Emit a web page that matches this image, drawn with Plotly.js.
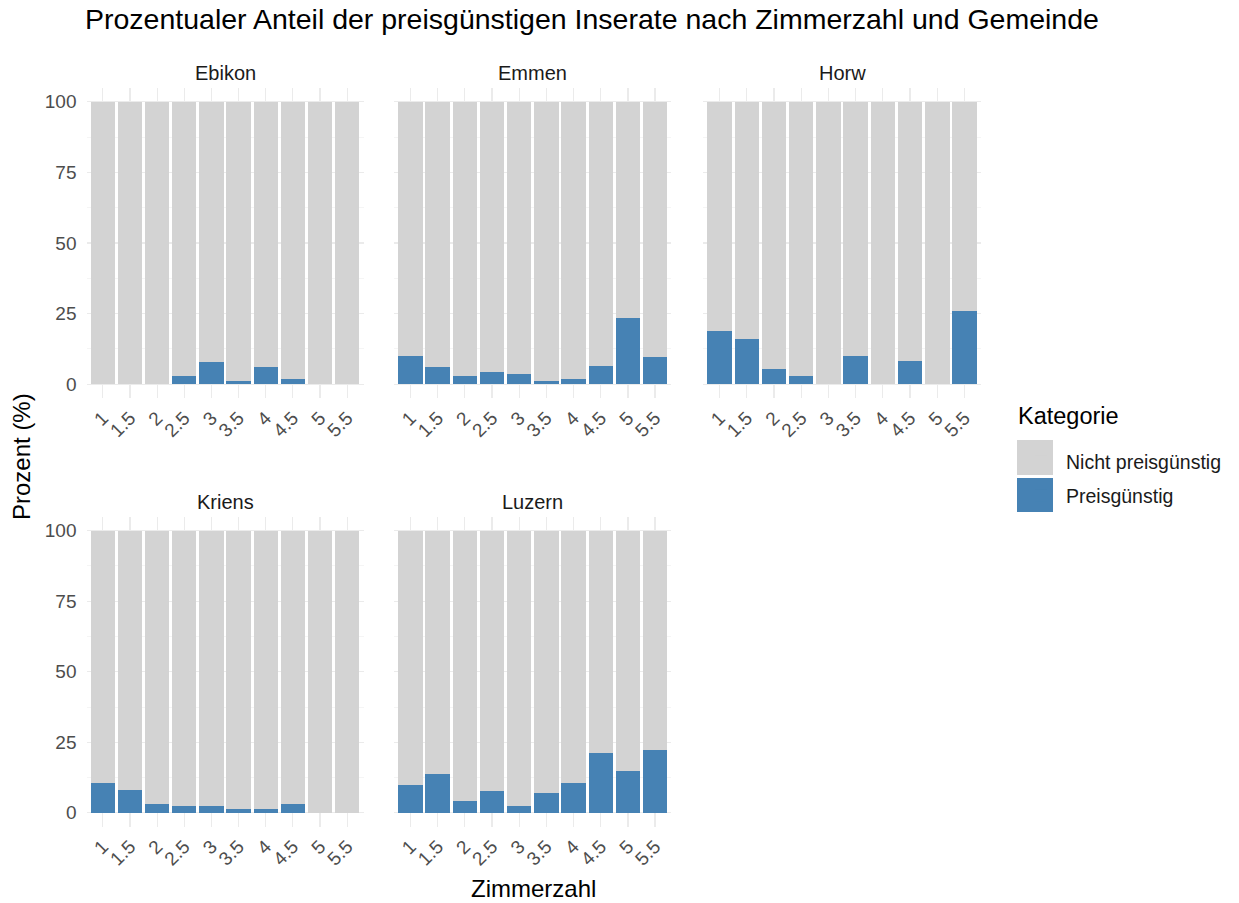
<!DOCTYPE html>
<html>
<head>
<meta charset="utf-8">
<script src="https://cdn.plot.ly/plotly-3.0.1.min.js"></script>
<style>html,body{margin:0;padding:0;background:#fff;}#chart{width:1239px;height:903px;}</style>
</head>
<body>
<div id="chart"></div>
<script>
// ---- Data ----
const rooms = ['1','1.5','2','2.5','3','3.5','4','4.5','5','5.5'];
const towns = ['Ebikon','Emmen','Horw','Kriens','Luzern'];
// Prozent preisgünstige Inserate je Zimmerzahl
const ebikon = [0, 0, 0, 3.1, 7.8, 1.3, 6.0, 1.9, 0, 0];
const emmen  = [10.1, 6.0, 3.1, 4.3, 3.6, 1.3, 1.9, 6.5, 23.5, 9.5];
const horw   = [18.9, 16.0, 5.3, 3.1, 0, 10.1, 0, 8.4, 0, 25.8];
const kriens = [10.5, 8.1, 3.0, 2.3, 2.3, 1.2, 1.2, 3.0, 0, 0];
const luzern = [10.0, 13.6, 4.2, 7.7, 2.4, 7.1, 10.7, 21.2, 14.8, 22.4];
const seriesByTown = [ebikon, emmen, horw, kriens, luzern];
const catLabels = ['Preisgünstig', 'Nicht preisgünstig'];

// ---- Layout geometry (pixels) ----
const W = 1239, H = 903;
const colPx = [[86.5, 363.5], [394.2, 671.4], [703.2, 980.8]];
const rowPx = [[87.6, 398.4], [516.6, 826.9]];
const BLUE = '#4682b4', GREY = '#d3d3d3';
const FONT = 'Liberation Sans, Arial, sans-serif';
const px = v => v / W, py = v => 1 - v / H;

const traces = [];
const layout = {
  width: W, height: H,
  margin: {l: 0, r: 0, t: 0, b: 0},
  paper_bgcolor: '#fff', plot_bgcolor: 'rgba(0,0,0,0)',
  barmode: 'stack', bargap: 0.1,
  font: {family: FONT, color: '#4d4d4d', size: 19},
  showlegend: true,
  legend: {
    x: px(1016), xanchor: 'left', y: py(442), yanchor: 'top',
    font: {size: 19.5, color: '#1a1a1a'},
    traceorder: 'grouped', tracegroupgap: 6, itemwidth: 40,
    bgcolor: 'rgba(0,0,0,0)'
  },
  annotations: [],
  shapes: [
    {type: 'rect', xref: 'paper', yref: 'paper', x0: px(1017), x1: px(1053), y0: py(440), y1: py(475),
     fillcolor: GREY, line: {width: 0}, layer: 'above'},
    {type: 'rect', xref: 'paper', yref: 'paper', x0: px(1017), x1: px(1053), y0: py(478), y1: py(512),
     fillcolor: BLUE, line: {width: 0}, layer: 'above'}
  ],
  title: {
    text: 'Prozentualer Anteil der preisgünstigen Inserate nach Zimmerzahl und Gemeinde',
    font: {size: 28.5, color: '#000', family: FONT},
    x: px(85), xanchor: 'left', xref: 'paper',
    y: py(19), yanchor: 'middle', yref: 'paper'
  }
};

towns.forEach((town, i) => {
  const r = Math.floor(i / 3), c = i % 3;
  const ax = i === 0 ? '' : String(i + 1);
  const vals = seriesByTown[i];
  const rest = vals.map(v => 100 - v);
  traces.push({
    type: 'bar', x: rooms, y: vals, xaxis: 'x' + ax, yaxis: 'y' + ax,
    name: catLabels[0], legendgroup: 'p', legendrank: 2, showlegend: i === 0,
    marker: {color: BLUE, line: {width: 0}}, hoverinfo: 'x+y+name'
  });
  traces.push({
    type: 'bar', x: rooms, y: rest, xaxis: 'x' + ax, yaxis: 'y' + ax,
    name: catLabels[1], legendgroup: 'n', legendrank: 1, showlegend: i === 0,
    marker: {color: GREY, line: {width: 0}}, hoverinfo: 'x+y+name'
  });
  const xd = [px(colPx[c][0]), px(colPx[c][1])];
  const yd = [py(rowPx[r][1]), py(rowPx[r][0])];
  layout['xaxis' + ax] = {
    domain: xd, anchor: 'y' + ax, type: 'category',
    categoryorder: 'array', categoryarray: rooms,
    range: [-0.6, rooms.length - 0.4],
    showgrid: true, gridcolor: '#ebebeb', gridwidth: 1.2,
    zeroline: false, showline: false, ticks: '', ticklabelstandoff: 4,
    tickangle: -45, tickfont: {size: 19, color: '#4d4d4d'}
  };
  layout['yaxis' + ax] = {
    domain: yd, anchor: 'x' + ax,
    range: [-5, 105], tickvals: [0, 25, 50, 75, 100],
    showticklabels: c === 0,
    showgrid: true, gridcolor: '#ebebeb', gridwidth: 1.2,
    minor: {dtick: 12.5, tick0: 0, showgrid: true, gridcolor: '#f2f2f2', gridwidth: 0.8},
    zeroline: false, showline: false, ticks: '', ticklabelstandoff: 9,
    tickfont: {size: 19, color: '#4d4d4d'}
  };
  layout.annotations.push({
    text: town, xref: 'paper', yref: 'paper',
    x: (xd[0] + xd[1]) / 2, y: yd[1] + 15 / H,
    xanchor: 'center', yanchor: 'middle', showarrow: false,
    font: {size: 20, color: '#1a1a1a'}
  });
});

layout.annotations.push({
  text: 'Kategorie', xref: 'paper', yref: 'paper',
  x: px(1016), y: py(416), xanchor: 'left', yanchor: 'middle', showarrow: false,
  font: {size: 23.5, color: '#000'}
});
layout.annotations.push({
  text: 'Zimmerzahl', xref: 'paper', yref: 'paper',
  x: px((colPx[0][0] + colPx[2][1]) / 2), y: py(888),
  xanchor: 'center', yanchor: 'middle', showarrow: false,
  font: {size: 24, color: '#000'}
});
layout.annotations.push({
  text: 'Prozent (%)', xref: 'paper', yref: 'paper',
  x: px(22), y: py(457), textangle: -90,
  xanchor: 'center', yanchor: 'middle', showarrow: false,
  font: {size: 24, color: '#000'}
});

Plotly.newPlot('chart', traces, layout, {displayModeBar: false, staticPlot: true});
</script>
</body>
</html>
